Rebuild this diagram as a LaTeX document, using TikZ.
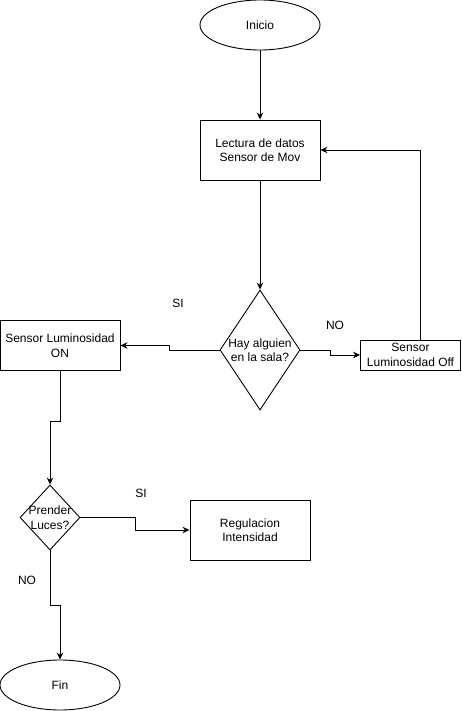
\documentclass[tikz,border=0pt]{standalone}
\usepackage{fontspec}
\setmainfont{Liberation Sans}
\usetikzlibrary{shapes.geometric,arrows.meta}
\begin{document}
\begin{tikzpicture}[x=1pt,y=-1pt,
  every node/.style={font=\fontsize{12}{14.5}\selectfont},
  box/.style={draw,line width=0.9pt,rectangle,inner sep=0,align=center},
  oval/.style={draw,line width=0.9pt,ellipse,inner sep=0,minimum width=120pt,minimum height=50pt},
  dia/.style={draw,line width=0.9pt,diamond,inner sep=0},
  arr/.style={line width=0.9pt,-{Stealth[length=7pt,width=6.5pt]}},
  lbl/.style={inner sep=0}]
\useasboundingbox (0,0) rectangle (461,711);
\node[oval] (ini) at (260,25) {Inicio};
\node[box,minimum width=120pt,minimum height=60pt] (lec) at (260,150) {Lectura de datos\\Sensor de Mov};
\node[dia,minimum width=80pt,minimum height=120pt] (d1) at (260,350) {};
\node[align=center,inner sep=0] (d1t) at (d1) {Hay alguien\\en la sala?};
\node[box,minimum width=120pt,minimum height=50pt] (on) at (60,345.5) {Sensor Luminosidad\\ON};
\node[box,minimum width=100pt,minimum height=30pt] (off) at (410.5,355) {Sensor\\Luminosidad Off};
\coordinate (offtop) at ([xshift=10pt]off.north);
\node[dia,minimum width=60pt,minimum height=65pt] (d2) at (50,517.5) {};
\node[align=center,inner sep=0] (d2t) at (d2) {Prender\\Luces?};
\node[box,minimum width=120pt,minimum height=60pt] (reg) at (250,530) {Regulacion\\Intensidad};
\node[oval] (fin) at (60,685) {Fin};
\node[lbl] (l1) at (178,303) {SI};
\node[lbl] (l2) at (335,325) {NO};
\node[lbl] (l3) at (141,493) {SI};
\node[lbl] (l4) at (27,580) {NO};
\draw[arr] (ini.south) -- (lec.north);
\draw[arr] (lec.south) -- (d1.north);
\draw[arr] (d1.west) -- ++(-50,0) |- (on.east);
\draw[arr] (d1.east) -- ++(30,0) |- (off.west);
\draw[arr] (offtop) |- (lec.east);
\draw[arr] (on.south) -- ++(0,50) -| (d2.north);
\draw[arr] (d2.east) -- ++(55,0) |- (reg.west);
\draw[arr] (d2.south) -- ++(0,55) -| (fin.north);
\end{tikzpicture}
\end{document}
